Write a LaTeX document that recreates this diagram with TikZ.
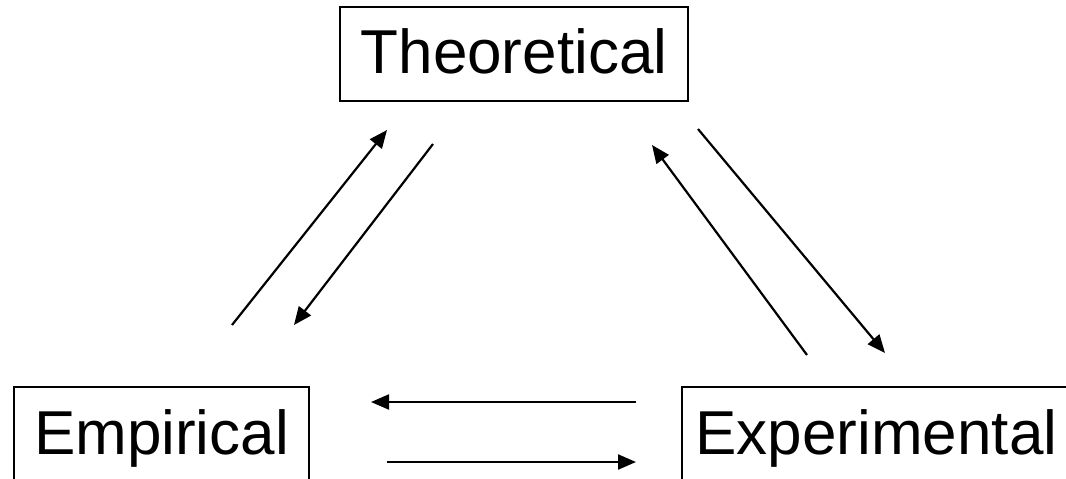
\documentclass[tikz,border=0pt]{standalone}
\usepackage{fontspec}
\setmainfont{Liberation Sans}
\usepackage{tikz}
\usetikzlibrary{arrows.meta}

\tikzset{
    fieldbox/.style={
        draw=black,
        line width=1.4pt,
        inner sep=0pt,
        font=\fontsize{31}{36}\selectfont,
        text height=22.3pt,
        text depth=3pt,
        align=center
    },
    flow/.style={
        line width=1.1pt,
        -{Triangle[length=9pt,width=7.5pt]}
    }
}

\begin{document}
\begin{tikzpicture}[x=0.5pt, y=-0.5pt]
                    \useasboundingbox (0,0) rectangle (1066,478);
                    \clip (0,0) rectangle (1066,478);
                    % the three kinds of research
                    \node[fieldbox, minimum width=174pt, minimum height=47pt] (theo) at (514,54) {Theoretical};
                    \node[fieldbox, minimum width=147.5pt, minimum height=48pt] (emp) at (161.5,435) {Empirical};
                    \node[fieldbox, minimum width=194.5pt, minimum height=48pt] (exper) at (876.5,435) {Experimental};
                    % arrow ends
                    \coordinate (empup) at (232,325);
                    \coordinate (theoin) at (387,130);
                    \coordinate (theoout) at (433,144);
                    \coordinate (empin) at (294,325);
                    \coordinate (experup) at (807,355);
                    \coordinate (theoright) at (652,145);
                    \coordinate (theoleave) at (698,129);
                    \coordinate (experin) at (885,353);
                    \coordinate (experleft) at (636,402);
                    \coordinate (empright) at (371,402);
                    \coordinate (empleave) at (387,462);
                    \coordinate (experget) at (636,462);
                    % links
                    \draw[flow] (empup) -- (theoin);
                    \draw[flow] (theoout) -- (empin);
                    \draw[flow] (experup) -- (theoright);
                    \draw[flow] (theoleave) -- (experin);
                    \draw[flow] (experleft) -- (empright);
                    \draw[flow] (empleave) -- (experget);
                \end{tikzpicture}
\end{document}
